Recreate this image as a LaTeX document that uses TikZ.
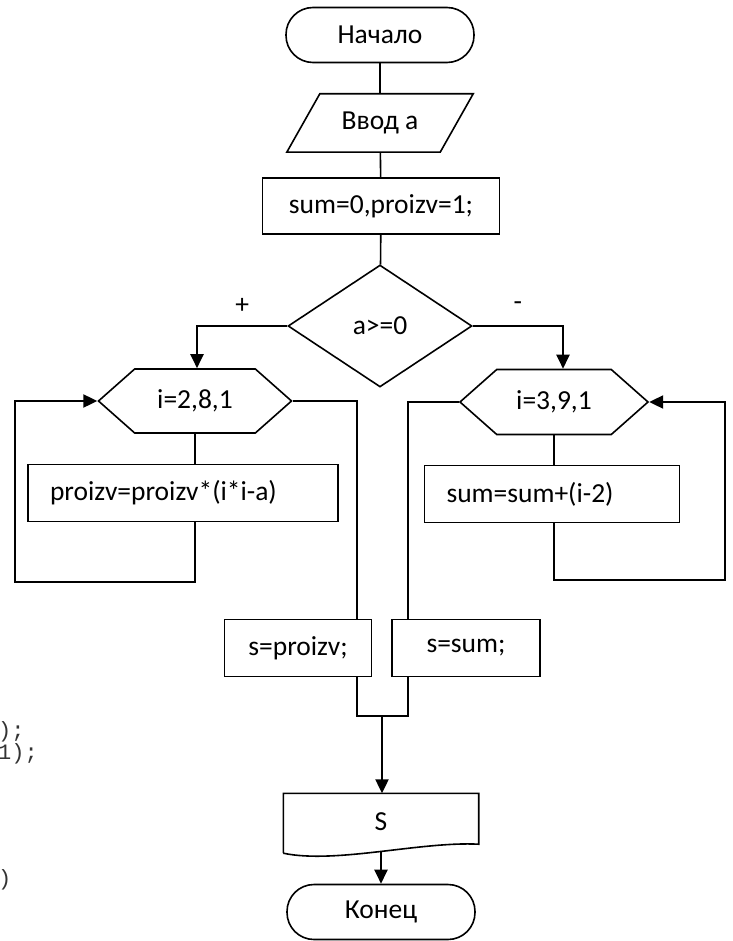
\documentclass[tikz,border=0pt]{standalone}
\usepackage{fontspec}
\setmainfont{Carlito}
\newfontfamily\codefont{Liberation Mono}
\usetikzlibrary{shapes.geometric,shapes.symbols,arrows.meta}

\begin{document}
\begin{tikzpicture}[x=1pt, y=-1pt,
    every node/.style={font=\fontsize{27.5}{33}\selectfont},
    line/.style={line width=1.6pt},
    arrow/.style={line width=2.2pt, -{Triangle[width=13pt,length=14pt]}},
    block/.style={draw, line width=1.6pt, rectangle, minimum height=57pt, inner sep=0pt},
    termbox/.style={draw, line width=1.6pt, rectangle, rounded corners=27pt, minimum width=188pt, minimum height=55pt, inner sep=0pt},
    iobox/.style={rectangle, minimum width=186pt, minimum height=58pt, inner sep=0pt},
    condbox/.style={draw, line width=1.6pt, diamond, minimum width=184pt, minimum height=122pt, inner sep=0pt},
    loopbox/.style={draw, line width=1.6pt, signal, signal to=east and west, signal pointer angle=83, minimum height=64pt, inner sep=0pt},
    sign/.style={inner sep=0pt, yshift=20pt},
    codetext/.style={font=\codefont\fontsize{22}{26}\selectfont, text=black!80, inner sep=0pt, anchor=west}
]
    \useasboundingbox (0,0) rectangle (732,941);

    \node[codetext] (code1) at (-2,732) {);};
    \node[codetext] (code2) at (-2,754) {1);};
    \node[codetext] (code3) at (-2,880) {)};

    \node[termbox] (start) at (380,35) {Начало};
    \node[iobox] (input) at (380,123) {Ввод а};
    \draw[line] (input.south west) -- ([xshift=33pt]input.north west) -- (input.north east)
        -- ([xshift=-33pt]input.south east) -- cycle;
    \node[block, minimum width=237pt, minimum height=56pt] (init) at (381,206) {sum=0,proizv=1;};
    \node[condbox] (cond) at (380,326) {a>=0};

    \node[loopbox, minimum width=193pt] (loop1) at (195,401) {i=2,8,1};
    \node[loopbox, minimum width=188pt, minimum height=65pt] (loop2) at (554,402) {i=3,9,1};
    \node[block, text width=266pt, inner xsep=22pt, align=left] (body1) at (183,493) {proizv=proizv*(i*i-a)};
    \node[block, text width=211pt, inner xsep=22pt, align=left] (body2) at (552,494) {sum=sum+(i-2)};

    \node[block, minimum width=147pt] (out1) at (298,648) {s=proizv;};
    \node[block, minimum width=148pt] (out2) at (466,648) {s=sum;};

    \node[minimum width=195pt, minimum height=57pt, inner sep=0pt] (show) at (381,822) {S};
    \node[termbox] (end) at (381,912) {Конец};

    \coordinate (back1) at (15,582);
    \coordinate (back2) at (725,580);
    \coordinate (join1) at (357,716);
    \coordinate (join2) at (408,716);
    \coordinate (merge) at (382,716);

    \draw[line] (start) -- (input);
    \draw[line] (input) -- (init);
    \draw[line] (init) -- (cond);
    \draw[arrow] (cond.west) -| node[sign, pos=0.25] (plus) {+} ([xshift=2pt]loop1.north);
    \draw[arrow] (cond.east) -| node[sign, pos=0.25] (minus) {-} ([xshift=9pt]loop2.north);

    \draw[line] (loop1.south) -- (loop1.south |- body1.north);
    \draw[arrow] (loop1.south |- body1.south) |- (back1) |- (loop1.west);
    \draw[line] (loop2.south) -- (loop2.south |- body2.north);
    \draw[arrow] (loop2.south |- body2.south) |- (back2) |- (loop2.east);

    \draw[line] (loop1.east) -| (join1 |- out1.north);
    \draw[line] (loop2.west) -| (join2 |- out2.north);
    \draw[line] (join1 |- out1.south) -- (join1) -- (join2) -- (join2 |- out2.south);
    \draw[arrow] (merge) -- (merge |- show.north);

    \draw[line] ([yshift=-2.5pt]show.south west) -- (show.north west) -- (show.north east)
        -- ([yshift=6.5pt]show.south east) .. controls +(-58,-3) and +(52,11) .. ([yshift=-2.5pt]show.south west);
    \draw[arrow] (show.south) -- (show.south |- end.north);
\end{tikzpicture}
\end{document}
